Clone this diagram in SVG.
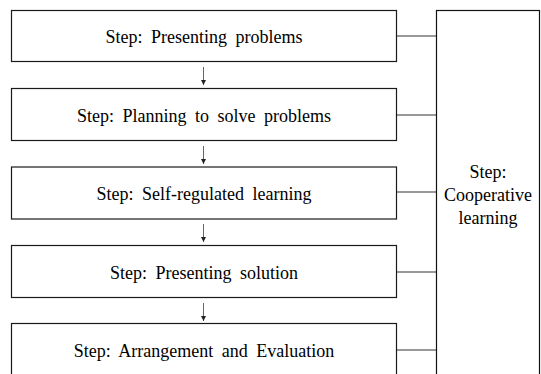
<svg xmlns="http://www.w3.org/2000/svg" width="541" height="374" viewBox="0 0 541 374">
<defs>
<style>
.box{fill:#fff;stroke:#1a1a1a;stroke-width:1.2}
.lbl{font-size:18px;fill:#000;text-anchor:middle;word-spacing:4px}
.con{stroke:#333;stroke-width:1.2;fill:none}
.arr{stroke:#666;stroke-width:1;fill:none}
</style>
<marker id="ah" markerWidth="6" markerHeight="6" refX="5" refY="3" orient="auto" markerUnits="userSpaceOnUse">
<path d="M0,0.5 L5,3 L0,5.5 Z" fill="#222"/>
</marker>
</defs>
<rect width="541" height="374" fill="#fff"/>
<g id="connectors">
<line class="con" x1="396.5" y1="36" x2="436.5" y2="36"/>
<line class="con" x1="396.5" y1="115" x2="436.5" y2="115"/>
<line class="con" x1="396.5" y1="192" x2="436.5" y2="192"/>
<line class="con" x1="396.5" y1="272" x2="436.5" y2="272"/>
<line class="con" x1="396.5" y1="350" x2="436.5" y2="350"/>
<line class="arr" x1="203.5" y1="67" x2="203.5" y2="85" marker-end="url(#ah)"/>
<line class="arr" x1="203.5" y1="146" x2="203.5" y2="164" marker-end="url(#ah)"/>
<line class="arr" x1="203.5" y1="224" x2="203.5" y2="242" marker-end="url(#ah)"/>
<line class="arr" x1="203.5" y1="303" x2="203.5" y2="321" marker-end="url(#ah)"/>
</g>
<g font-family="Liberation Serif">
<g id="step1"><rect class="box" x="11.5" y="10.5" width="385" height="51"/><text class="lbl" x="204" y="43">Step: Presenting problems</text></g>
<g id="step2"><rect class="box" x="11.5" y="88.5" width="385" height="52"/><text class="lbl" x="204" y="121.5">Step: Planning to solve problems</text></g>
<g id="step3"><rect class="box" x="11.5" y="167" width="385" height="52"/><text class="lbl" x="204" y="200">Step: Self-regulated learning</text></g>
<g id="step4"><rect class="box" x="11.5" y="245.5" width="385" height="52"/><text class="lbl" x="204" y="278.5">Step: Presenting solution</text></g>
<g id="step5"><rect class="box" x="11.5" y="323.5" width="385" height="60"/><text class="lbl" x="204" y="357">Step: Arrangement and Evaluation</text></g>
<g id="coop"><rect class="box" x="436.5" y="10.5" width="103" height="380" style="stroke:#111"/>
<text class="lbl" x="488" y="178">Step:</text>
<text class="lbl" x="488" y="201">Cooperative</text>
<text class="lbl" x="488" y="224">learning</text></g>
</g>
</svg>
